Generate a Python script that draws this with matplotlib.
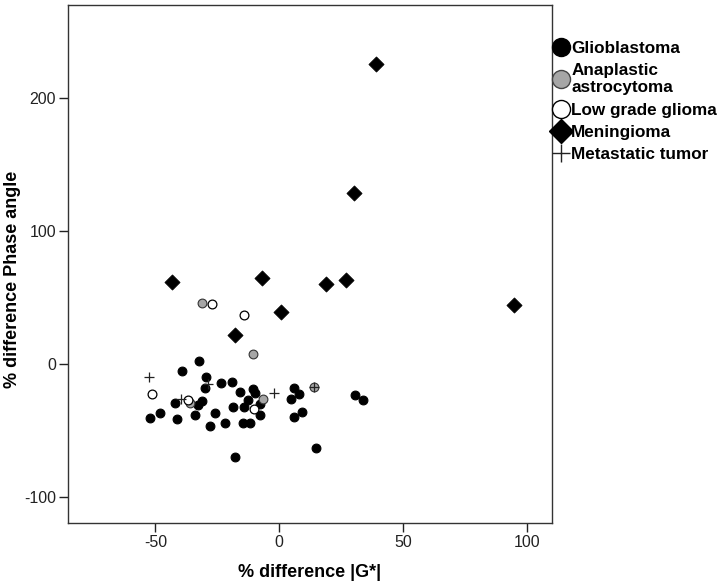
import matplotlib
matplotlib.use("Agg")
import matplotlib.pyplot as plt
from matplotlib.lines import Line2D

plt.rcParams["font.family"] = ["Liberation Sans", "DejaVu Sans"]
plt.rcParams["axes.unicode_minus"] = False

# Glioblastoma (filled black circles)
gbm_x = [-32.3, -39.1, -29.5, -29.9, -23.6, -19.1, -15.8, -10.6, -9.7, -12.8,
         -14.4, -18.7, -31.2, -33.0, -34.0, -42.3, -48.1, -52.1, -41.4, -25.9,
         -27.9, -21.8, -14.7, -12.0, -17.7, 14.8, 5.8, 7.8, 4.7, 9.2,
         5.8, 30.4, 33.7, -7.7, -7.7]
gbm_y = [2.5, -5.0, -10.0, -18.3, -14.5, -13.3, -20.8, -19.0, -22.0, -27.1,
         -32.1, -32.6, -27.6, -31.0, -38.3, -29.6, -37.1, -40.8, -41.6, -36.6,
         -46.6, -44.1, -44.1, -44.1, -70.2, -62.9, -18.3, -22.6, -26.3, -35.9,
         -39.6, -23.5, -27.1, -30.1, -38.3]

# Anaplastic astrocytoma (grey circles)
aa_x = [-31.0, -10.7, -6.4, -36.0, 14.2]
aa_y = [45.6, 7.6, -26.2, -29.0, -17.2]

# Low grade glioma (open circles)
lgg_x = [-27.1, -14.4, -51.2, -10.2, -37.0]
lgg_y = [44.9, 36.8, -22.3, -33.8, -27.3]

# Meningioma (diamonds)
men_x = [39.2, 30.3, -43.2, -7.0, 18.7, 27.1, 94.6, 0.7, -17.8]
men_y = [225.8, 128.3, 61.4, 64.9, 60.4, 63.2, 44.4, 39.1, 21.8]

# Metastatic tumor (plus)
met_x = [-52.8, -39.5, -28.8, -2.1, 14.2]
met_y = [-10.0, -26.0, -15.0, -21.5, -17.2]

fig = plt.figure(figsize=(7.22, 5.85), dpi=100)
ax = fig.add_axes([0.0942, 0.106, 0.6703, 0.8855])

ax.scatter(gbm_x, gbm_y, s=40, marker="o", facecolor="black", edgecolor="black", linewidth=0.8, zorder=3)
ax.scatter(aa_x, aa_y, s=40, marker="o", facecolor="#a6a6a6", edgecolor="#333333", linewidth=0.8, zorder=4)
ax.scatter(lgg_x, lgg_y, s=40, marker="o", facecolor="white", edgecolor="black", linewidth=0.9, zorder=5)
ax.scatter(men_x, men_y, s=60, marker="D", facecolor="black", edgecolor="black", linewidth=0.5, zorder=6)
ax.scatter(met_x, met_y, s=45, marker="+", color="#222222", linewidth=0.9, zorder=7)

ax.set_xlim(-85.3, 110.1)
ax.set_ylim(-119.5, 270)
ax.set_xticks([-50, 0, 50, 100])
ax.set_yticks([-100, 0, 100, 200])
ax.tick_params(direction="out", length=6.5, width=1.0, labelsize=11.5, pad=2,
               color="#222222", labelcolor="#222222")
for sp in ax.spines.values():
    sp.set_color("#333333")
    sp.set_linewidth(1.0)

ax.set_xlabel("% difference |G*|", fontsize=13, fontweight="bold", labelpad=10)
ax.set_ylabel("% difference Phase angle", fontsize=13, fontweight="bold")
ax.yaxis.set_label_coords(-0.097, 0.47)

handles = [
    Line2D([], [], linestyle="none", marker="o", markersize=13, markerfacecolor="black", markeredgecolor="black"),
    Line2D([], [], linestyle="none", marker="o", markersize=13, markerfacecolor="#a6a6a6", markeredgecolor="#444444"),
    Line2D([], [], linestyle="none", marker="o", markersize=13, markerfacecolor="white", markeredgecolor="black"),
    Line2D([], [], linestyle="none", marker="D", markersize=12, markerfacecolor="black", markeredgecolor="black"),
    Line2D([], [], linestyle="none", marker="+", markersize=13, color="#222222", markeredgewidth=1.0),
]
labels = ["Glioblastoma", "Anaplastic\nastrocytoma", "Low grade glioma", "Meningioma", "Metastatic tumor"]
fig.legend(handles, labels, loc="upper left", bbox_to_anchor=(0.757, 0.942), frameon=False,
           handlelength=0.9, handletextpad=0.15, labelspacing=0.42, borderaxespad=0,
           prop={"size": 12.3, "weight": "bold"})

fig.savefig("out.png", dpi=100)
